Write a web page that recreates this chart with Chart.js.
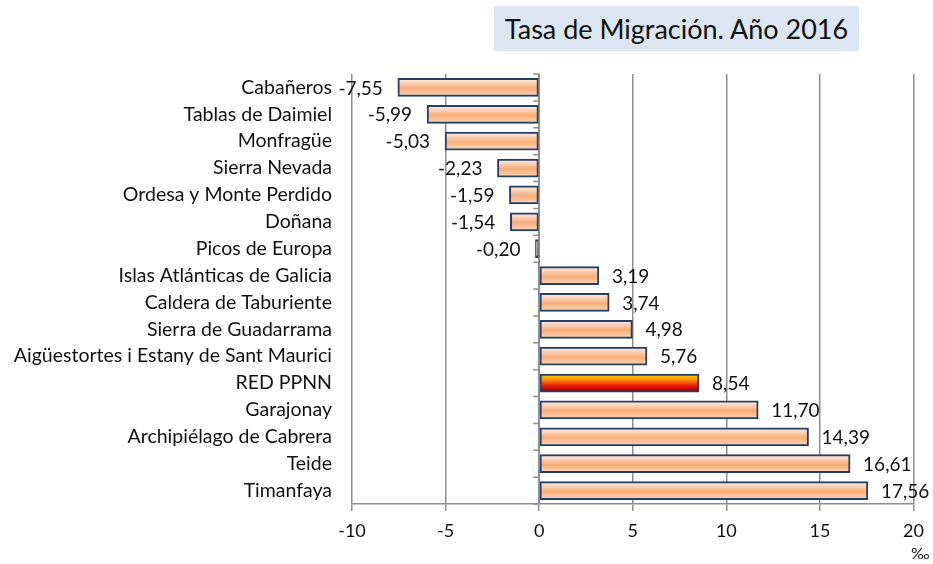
<!DOCTYPE html>
<html>
<head>
<meta charset="utf-8">
<script src="https://cdn.jsdelivr.net/npm/chart.js@4/dist/chart.umd.min.js"></script>
<style>
    body { margin: 0; background: #fff; }
    #wrap { position: relative; width: 933px; height: 564px; }
    #title {
        position: absolute; left: 494px; top: 6px; width: 365px; height: 45px;
        background: #dce6f2; color: #111; font: 27px Lato; line-height: 45px; text-align: center;
    }
    #unit { position: absolute; left: 911px; top: 543px; color: #111; font: 16px Lato; }
</style>
</head>
<body>
<div id="wrap">
    <canvas id="myChart" width="933" height="564"></canvas>
    <div id="title">Tasa de Migración. Año 2016</div>
    <div id="unit">‰</div>
</div>
<script>
const parks = [
    'Cabañeros', 'Tablas de Daimiel', 'Monfragüe', 'Sierra Nevada', 'Ordesa y Monte Perdido',
    'Doñana', 'Picos de Europa', 'Islas Atlánticas de Galicia', 'Caldera de Taburiente',
    'Sierra de Guadarrama', 'Aigüestortes i Estany de Sant Maurici', 'RED PPNN', 'Garajonay',
    'Archipiélago de Cabrera', 'Teide', 'Timanfaya'
];
const rates = [-7.55, -5.99, -5.03, -2.23, -1.59, -1.54, -0.20, 3.19, 3.74, 4.98, 5.76, 8.54, 11.70, 14.39, 16.61, 17.56];
const highlight = 'RED PPNN';
const axisMin = -10;
const axisMax = 20;
const axisStep = 5;

const gray = '#8e8e8e';
const peachStops = [[0, '#fff1ec'], [0.2, '#fcd8c2'], [0.55, '#f9ad78'], [0.85, '#fbcaa5'], [1, '#fde6d6']];
const redStops = [[0, '#ffd000'], [0.3, '#ff9400'], [0.6, '#ee2a00'], [0.85, '#c00000'], [1, '#8c0000']];

function barFill(context) {
    const chart = context.chart;
    if (!chart.chartArea) return '#f9ad78';
    const yc = chart.scales.y.getPixelForValue(context.dataIndex);
    const g = chart.ctx.createLinearGradient(0, yc - 9, 0, yc + 9);
    const stops = parks[context.dataIndex] === highlight ? redStops : peachStops;
    stops.forEach(s => g.addColorStop(s[0], s[1]));
    return g;
}

// axis through zero with small tick marks between categories
const zeroAxis = {
    id: 'zeroAxis',
    afterDatasetsDraw(chart) {
        const {ctx, chartArea, scales: {x, y}} = chart;
        const x0 = x.getPixelForValue(0);
        const step = y.getPixelForValue(1) - y.getPixelForValue(0);
        ctx.save();
        ctx.strokeStyle = gray;
        ctx.lineWidth = 1.5;
        ctx.beginPath();
        ctx.moveTo(x0, chartArea.top);
        ctx.lineTo(x0, chartArea.bottom);
        for (let i = 0; i <= parks.length; i++) {
            const yy = y.getPixelForValue(0) - step / 2 + i * step;
            ctx.moveTo(x0 - 6, yy);
            ctx.lineTo(x0, yy);
        }
        ctx.stroke();
        ctx.restore();
    }
};

const valueLabels = {
    id: 'valueLabels',
    afterDatasetsDraw(chart) {
        const ctx = chart.ctx;
        const meta = chart.getDatasetMeta(0);
        ctx.save();
        ctx.font = '19px Lato';
        ctx.fillStyle = '#111';
        ctx.textBaseline = 'middle';
        meta.data.forEach((bar, i) => {
            const text = rates[i].toFixed(2).replace('.', ',');
            if (rates[i] < 0) {
                ctx.textAlign = 'right';
                ctx.fillText(text, bar.x - 15, bar.y + 1);
            } else {
                ctx.textAlign = 'left';
                ctx.fillText(text, bar.x + 13, bar.y + 1);
            }
        });
        ctx.restore();
    }
};

new Chart(document.getElementById('myChart'), {
    type: 'bar',
    data: {
        labels: parks,
        datasets: [{
            data: rates,
            backgroundColor: barFill,
            borderColor: '#243f66',
            borderWidth: 2,
            borderSkipped: false,
            barThickness: 18
        }]
    },
    options: {
        indexAxis: 'y',
        responsive: false,
        animation: false,
        layout: { padding: { top: 74, right: 19, left: 0, bottom: 0 } },
        plugins: {
            legend: { display: false },
            tooltip: { enabled: false }
        },
        scales: {
            x: {
                min: axisMin,
                max: axisMax,
                ticks: {
                    stepSize: axisStep,
                    padding: 9,
                    color: '#111',
                    font: { family: 'Lato', size: 18 }
                },
                grid: { color: gray, lineWidth: 1.5, tickLength: 7, tickColor: gray },
                border: { color: gray, width: 1.5 },
                afterFit: s => { s.height = 60; }
            },
            y: {
                ticks: {
                    autoSkip: false,
                    padding: 20,
                    color: '#111',
                    font: { family: 'Lato', size: 19.5 }
                },
                grid: { display: false, drawTicks: false },
                border: { display: false },
                afterFit: s => { s.width = 352; }
            }
        }
    },
    plugins: [zeroAxis, valueLabels]
});
</script>
</body>
</html>
